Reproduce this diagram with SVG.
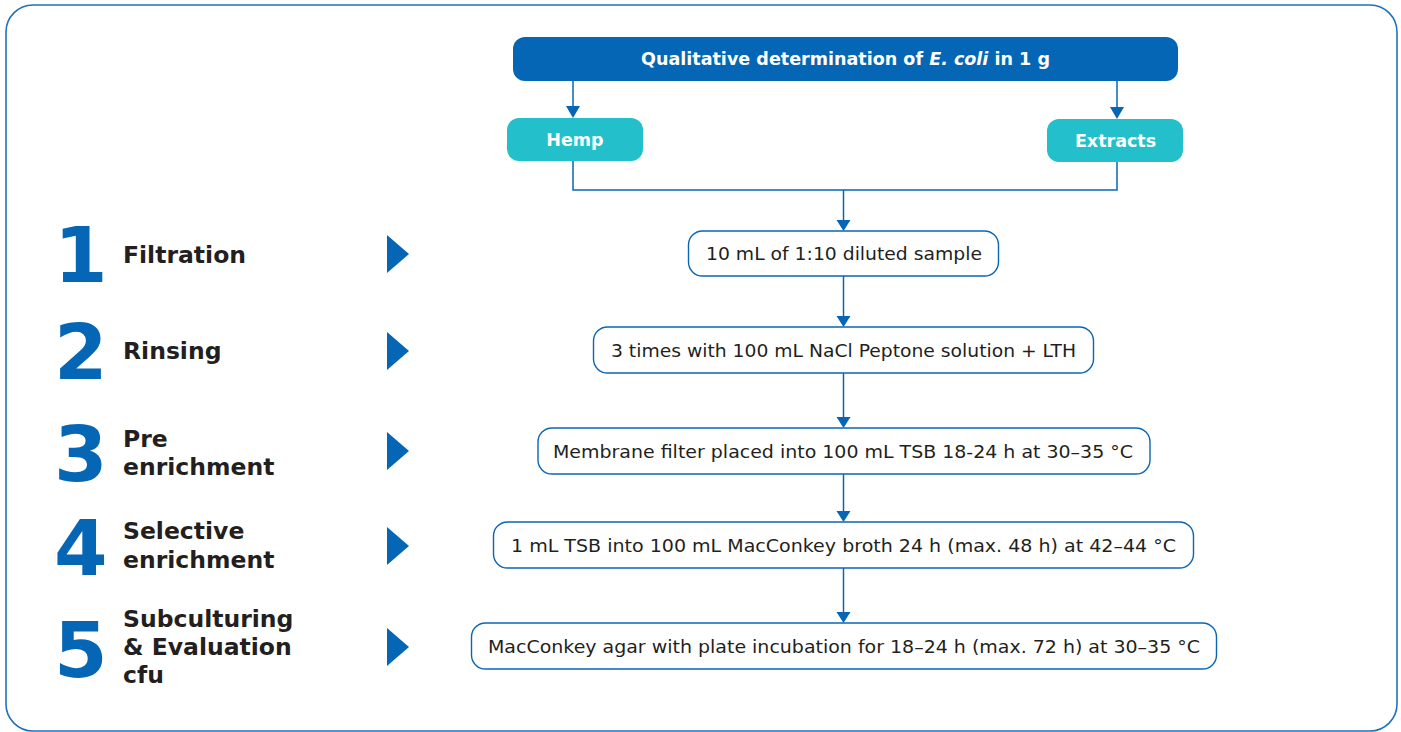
<svg xmlns="http://www.w3.org/2000/svg" width="1401" height="732" viewBox="0 0 1401 732">
<style>
.frame{fill:#fff;stroke:#1f72bd;stroke-width:1.6}
.box{fill:#fff;stroke:#0a66b5;stroke-width:1.4}
.btxt{font-family:"DejaVu Sans",Verdana,sans-serif;font-size:18px;fill:#231f20;text-anchor:middle}
.title{fill:#0466b4}
.teal{fill:#23c0cc}
.wtxt{font-family:"DejaVu Sans",Verdana,sans-serif;font-size:17.5px;font-weight:bold;fill:#fff;text-anchor:middle}
.num{font-family:"DejaVu Sans",Verdana,sans-serif;font-size:77px;font-weight:bold;fill:#0466b4}
.lbl{font-family:"DejaVu Sans",Verdana,sans-serif;font-size:23.5px;font-weight:bold;fill:#231f20}
.tri{fill:#0466b4}
.ln{fill:none;stroke:#0a66b5;stroke-width:1.5}
</style>
<rect class="frame" x="6" y="5" width="1391" height="726" rx="27"/>

<g id="connectors">
<path class="ln" d="M573,81 V106"/>
<path d="M566,106 H580 L573,118 Z" class="tri"/>
<path class="ln" d="M1117,81 V107"/>
<path d="M1110,107 H1124 L1117,119 Z" class="tri"/>
<path class="ln" d="M573,161 V190 H1117 V162"/>
<path class="ln" d="M843.5,190 V220"/>
<path d="M836.5,220 H850.5 L843.5,231 Z" class="tri"/>
<path class="ln" d="M843.5,276 V316"/>
<path d="M836.5,316 H850.5 L843.5,327 Z" class="tri"/>
<path class="ln" d="M843.5,373 V417"/>
<path d="M836.5,417 H850.5 L843.5,428 Z" class="tri"/>
<path class="ln" d="M843.5,474 V511"/>
<path d="M836.5,511 H850.5 L843.5,522 Z" class="tri"/>
<path class="ln" d="M843.5,568 V612"/>
<path d="M836.5,612 H850.5 L843.5,623 Z" class="tri"/>
</g>

<g id="title">
<rect class="title" x="513" y="37" width="665" height="44" rx="12"/>
<text class="wtxt" x="845.5" y="65" textLength="409" lengthAdjust="spacingAndGlyphs">Qualitative determination of <tspan font-style="italic">E. coli</tspan> in 1 g</text>
</g>
<g id="hemp">
<rect class="teal" x="507" y="118" width="136" height="43" rx="12"/>
<text class="wtxt" x="575" y="146">Hemp</text>
</g>
<g id="extracts">
<rect class="teal" x="1047" y="119" width="136" height="43" rx="12"/>
<text class="wtxt" x="1115.5" y="147">Extracts</text>
</g>

<g id="step1">
<rect class="box" x="688.5" y="231" width="310" height="45" rx="14"/>
<text class="btxt" x="844" y="260" textLength="276" lengthAdjust="spacingAndGlyphs">10 mL of 1:10 diluted sample</text>
</g>
<g id="step2">
<rect class="box" x="593.5" y="327" width="500" height="46" rx="14"/>
<text class="btxt" x="843.5" y="356.5" textLength="465" lengthAdjust="spacingAndGlyphs">3 times with 100 mL NaCl Peptone solution + LTH</text>
</g>
<g id="step3">
<rect class="box" x="538" y="428" width="612" height="46" rx="14"/>
<text class="btxt" x="843" y="457.5" textLength="580" lengthAdjust="spacingAndGlyphs">Membrane filter placed into 100 mL TSB 18-24 h at 30–35 °C</text>
</g>
<g id="step4">
<rect class="box" x="493.5" y="522" width="700" height="46" rx="14"/>
<text class="btxt" x="843.5" y="551.5" textLength="665" lengthAdjust="spacingAndGlyphs">1 mL TSB into 100 mL MacConkey broth 24 h (max. 48 h) at 42–44 °C</text>
</g>
<g id="step5">
<rect class="box" x="471.5" y="623" width="745" height="46" rx="14"/>
<text class="btxt" x="844" y="652.5" textLength="712" lengthAdjust="spacingAndGlyphs">MacConkey agar with plate incubation for 18–24 h (max. 72 h) at 30–35 °C</text>
</g>

<g id="label1">
<text class="num" x="54" y="282">1</text>
<text class="lbl" x="123" y="263">Filtration</text>
<path class="tri" d="M387,235 L409,254 L387,273 Z"/>
</g>
<g id="label2">
<text class="num" x="54" y="379">2</text>
<text class="lbl" x="123" y="359">Rinsing</text>
<path class="tri" d="M387,332 L409,351 L387,370 Z"/>
</g>
<g id="label3">
<text class="num" x="54" y="481">3</text>
<text class="lbl" x="123" y="447">Pre</text>
<text class="lbl" x="123" y="475">enrichment</text>
<path class="tri" d="M387,432 L409,451 L387,470 Z"/>
</g>
<g id="label4">
<text class="num" x="54" y="575">4</text>
<text class="lbl" x="123" y="539">Selective</text>
<text class="lbl" x="123" y="568">enrichment</text>
<path class="tri" d="M387,527 L409,546 L387,565 Z"/>
</g>
<g id="label5">
<text class="num" x="54" y="677">5</text>
<text class="lbl" x="123" y="627">Subculturing</text>
<text class="lbl" x="123" y="655">&amp; Evaluation</text>
<text class="lbl" x="123" y="683">cfu</text>
<path class="tri" d="M387,628 L409,647 L387,666 Z"/>
</g>
</svg>
